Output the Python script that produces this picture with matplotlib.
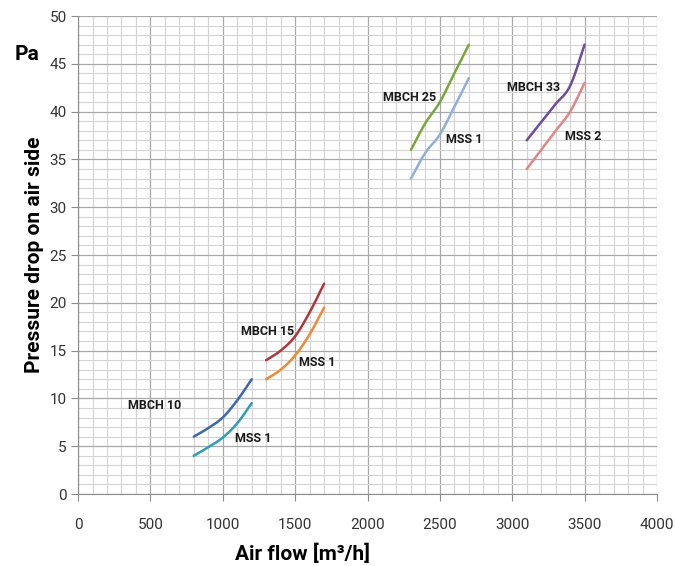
import numpy as np
import matplotlib.pyplot as plt
from matplotlib.ticker import MultipleLocator
from matplotlib import font_manager

names = {f.name for f in font_manager.fontManager.ttflist}
narrow = 'Liberation Sans Narrow' if 'Liberation Sans Narrow' in names else 'Roboto'
plt.rcParams['font.family'] = [narrow, 'DejaVu Sans']

# air flow [m3/h] and pressure drop [Pa]
flow_10 = [800, 900, 1000, 1100, 1200]
mbch_10 = [6.0, 6.9, 8.0, 9.8, 12.0]
mss1_10 = [4.0, 4.9, 5.9, 7.4, 9.5]

flow_15 = [1300, 1400, 1500, 1600, 1700]
mbch_15 = [14.0, 15.0, 16.5, 19.0, 22.0]
mss1_15 = [12.0, 13.0, 14.5, 16.7, 19.5]

flow_25 = [2300, 2400, 2500, 2600, 2700]
mbch_25 = [36.0, 38.8, 41.0, 44.0, 47.0]
mss1_25 = [33.0, 35.7, 37.6, 40.5, 43.5]

flow_33 = [3100, 3200, 3300, 3400, 3500]
mbch_33 = [37.0, 38.9, 40.8, 42.7, 47.0]
mss2_33 = [34.0, 36.0, 38.0, 40.0, 43.0]

labels = ['MBCH 10', 'MSS 1', 'MBCH 15', 'MSS 1', 'MBCH 25', 'MSS 1', 'MBCH 33', 'MSS 2']
label_x = [530, 1210, 1310, 1650, 2290, 2670, 3150, 3490]
label_y = [9.3, 5.8, 17.0, 13.8, 41.5, 37.1, 42.5, 37.4]


# smoothed line through the points, like the spreadsheet's "smooth line" option
def smooth(x, y, n=20):
    x = np.asarray(x, float)
    y = np.asarray(y, float)
    px = np.concatenate([[2 * x[0] - x[1]], x, [2 * x[-1] - x[-2]]])
    py = np.concatenate([[2 * y[0] - y[1]], y, [2 * y[-1] - y[-2]]])
    xs, ys = [], []
    for i in range(1, len(px) - 2):
        t = np.linspace(0, 1, n, endpoint=False)
        for p, out in ((px, xs), (py, ys)):
            p0, p1, p2, p3 = p[i - 1], p[i], p[i + 1], p[i + 2]
            out.extend(0.5 * (2 * p1 + (-p0 + p2) * t + (2 * p0 - 5 * p1 + 4 * p2 - p3) * t ** 2
                              + (-p0 + 3 * p1 - 3 * p2 + p3) * t ** 3))
    xs.append(x[-1])
    ys.append(y[-1])
    return xs, ys


fig = plt.figure(figsize=(6.75, 5.66), dpi=100)
ax = fig.add_axes([0.1156, 0.1272, 0.8577, 0.8445])

series = [
    (flow_10, mbch_10, '#3A68AC'),
    (flow_10, mss1_10, '#2F9DB2'),
    (flow_15, mbch_15, '#B0363A'),
    (flow_15, mss1_15, '#EE8A34'),
    (flow_25, mbch_25, '#7AA63C'),
    (flow_25, mss1_25, '#90AEDC'),
    (flow_33, mbch_33, '#6C4C9C'),
    (flow_33, mss2_33, '#E08684'),
]
for x, y, c in series:
    ax.plot(*smooth(x, y), color=c, lw=1.8, solid_capstyle='round')

for t, x, y in zip(labels, label_x, label_y):
    ax.text(x, y, t, ha='center', va='center', fontsize=9, fontweight='bold', color='#1a1a1a')

ax.set_xlim(0, 4000)
ax.set_ylim(0, 50)
ax.xaxis.set_major_locator(MultipleLocator(500))
ax.xaxis.set_minor_locator(MultipleLocator(100))
ax.yaxis.set_major_locator(MultipleLocator(5))
ax.yaxis.set_minor_locator(MultipleLocator(1))
ax.grid(which='minor', color='#D4D4D4', lw=0.8)
ax.grid(which='major', color='#A8A8A8', lw=0.9)
ax.set_axisbelow(True)

for s in ['top', 'right']:
    ax.spines[s].set_visible(False)
for s in ['left', 'bottom']:
    ax.spines[s].set_color('#8C8C8C')

ax.tick_params(axis='x', which='major', length=5, color='#8C8C8C', pad=12, labelsize=11, labelcolor='#333333')
ax.tick_params(axis='y', which='major', length=5, color='#8C8C8C', pad=3, labelsize=11, labelcolor='#333333')
ax.tick_params(which='minor', length=0)

ax.set_xlabel('Air flow [m³/h]', fontsize=15, fontweight='bold', labelpad=9, x=0.387)
ax.set_ylabel('Pressure drop on air side', fontsize=15, fontweight='bold', labelpad=4)
fig.text(27 / 675, 1 - 55 / 566, 'Pa', fontsize=15, fontweight='bold', ha='center', va='center')

fig.savefig('out.png', dpi=100)
